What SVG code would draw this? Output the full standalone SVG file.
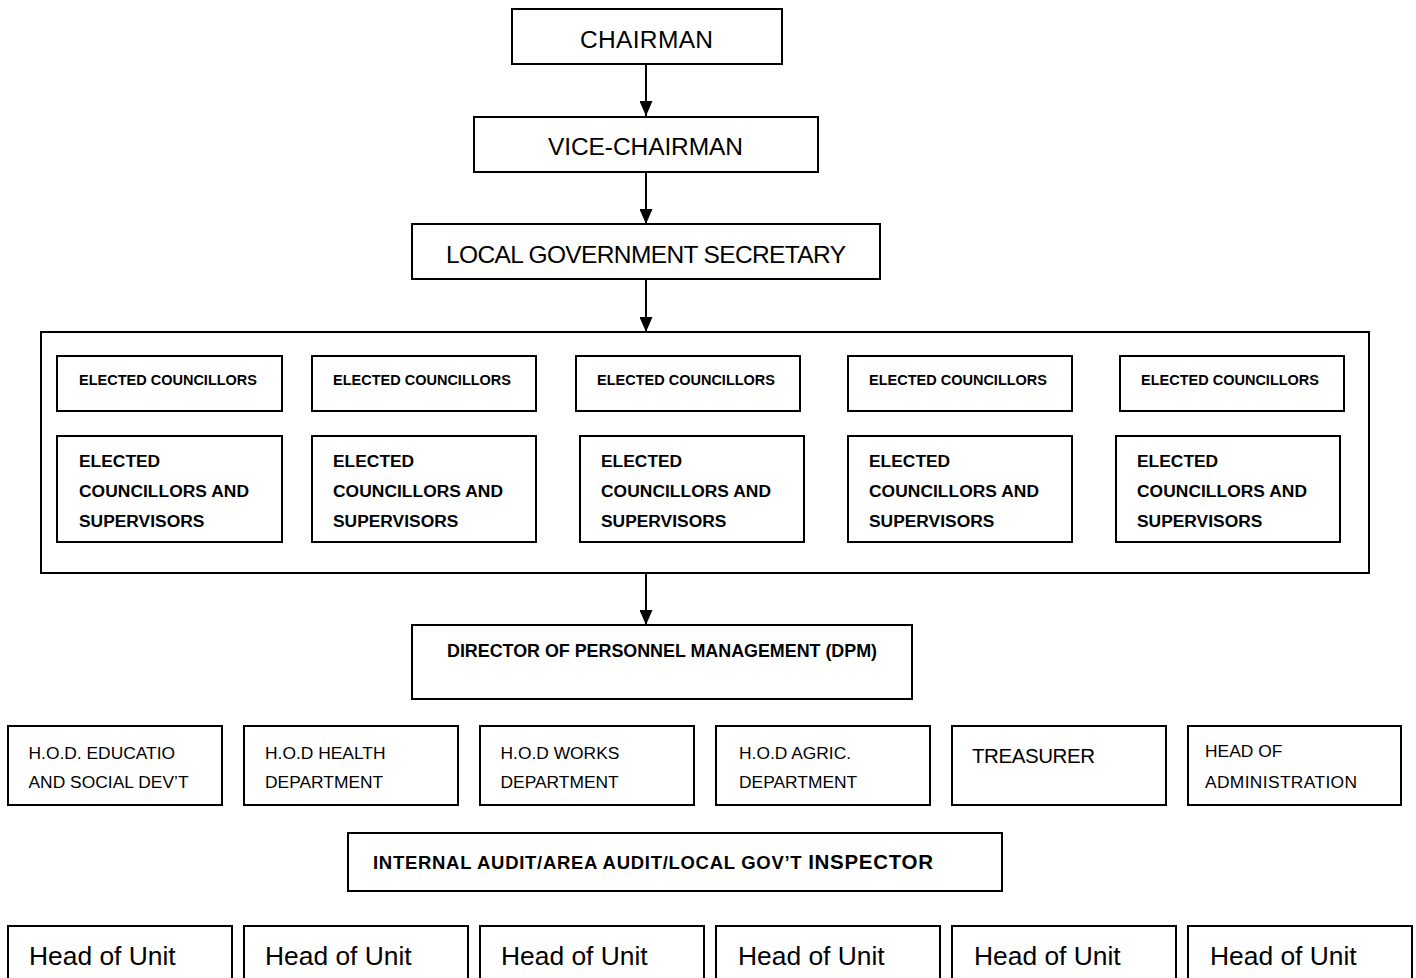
<svg xmlns="http://www.w3.org/2000/svg" width="1416" height="978" viewBox="0 0 1416 978">
<style>
rect{fill:#fff;stroke:#000;stroke-width:2}
text{font-family:"Liberation Sans",Arial,sans-serif;fill:#000}
.t1{font-size:24.5px}
.ec{font-size:14.5px;font-weight:bold}
.ecs{font-size:17.4px;font-weight:bold}
.hod{font-size:17.4px}
.hu{font-size:26.4px}
.con line{stroke:#000;stroke-width:2;marker-end:url(#ah)}
</style>
<defs>
<marker id="ah" markerUnits="userSpaceOnUse" markerWidth="15" markerHeight="13" refX="15" refY="6.5" orient="auto">
<path d="M0,0 L15,6.5 L0,13 z" fill="#000"/>
</marker>
</defs>
<rect x="0" y="0" width="1416" height="978" style="stroke:none"/>
<g id="chairman"><rect x="512" y="9" width="270" height="55"/><text class="t1" x="580" y="48" textLength="133">CHAIRMAN</text></g>
<g id="vice-chairman"><rect x="474" y="117" width="344" height="55"/><text class="t1" x="548" y="155" textLength="195">VICE-CHAIRMAN</text></g>
<g id="lg-secretary"><rect x="412" y="224" width="468" height="55"/><text class="t1" x="446" y="263" textLength="400">LOCAL GOVERNMENT SECRETARY</text></g>
<g id="councillors-group">
<rect x="41" y="332" width="1328" height="241"/>
<g id="ec1"><rect x="57" y="356" width="225" height="55"/><text class="ec" x="79" y="385" textLength="178">ELECTED COUNCILLORS</text></g>
<g id="ec2"><rect x="312" y="356" width="224" height="55"/><text class="ec" x="333" y="385" textLength="178">ELECTED COUNCILLORS</text></g>
<g id="ec3"><rect x="576" y="356" width="224" height="55"/><text class="ec" x="597" y="385" textLength="178">ELECTED COUNCILLORS</text></g>
<g id="ec4"><rect x="848" y="356" width="224" height="55"/><text class="ec" x="869" y="385" textLength="178">ELECTED COUNCILLORS</text></g>
<g id="ec5"><rect x="1120" y="356" width="224" height="55"/><text class="ec" x="1141" y="385" textLength="178">ELECTED COUNCILLORS</text></g>
<g id="ecs1"><rect x="57" y="436" width="225" height="106"/><text class="ecs" x="79" y="467">ELECTED</text><text class="ecs" x="79" y="497" textLength="170">COUNCILLORS AND</text><text class="ecs" x="79" y="527">SUPERVISORS</text></g>
<g id="ecs2"><rect x="312" y="436" width="224" height="106"/><text class="ecs" x="333" y="467">ELECTED</text><text class="ecs" x="333" y="497" textLength="170">COUNCILLORS AND</text><text class="ecs" x="333" y="527">SUPERVISORS</text></g>
<g id="ecs3"><rect x="580" y="436" width="224" height="106"/><text class="ecs" x="601" y="467">ELECTED</text><text class="ecs" x="601" y="497" textLength="170">COUNCILLORS AND</text><text class="ecs" x="601" y="527">SUPERVISORS</text></g>
<g id="ecs4"><rect x="848" y="436" width="224" height="106"/><text class="ecs" x="869" y="467">ELECTED</text><text class="ecs" x="869" y="497" textLength="170">COUNCILLORS AND</text><text class="ecs" x="869" y="527">SUPERVISORS</text></g>
<g id="ecs5"><rect x="1116" y="436" width="224" height="106"/><text class="ecs" x="1137" y="467">ELECTED</text><text class="ecs" x="1137" y="497" textLength="170">COUNCILLORS AND</text><text class="ecs" x="1137" y="527">SUPERVISORS</text></g>
</g>
<g id="dpm"><rect x="412" y="625" width="500" height="74"/><text x="447" y="657" style="font-size:17.9px;font-weight:bold" textLength="430">DIRECTOR OF PERSONNEL MANAGEMENT (DPM)</text></g>
<g id="hod-education"><rect x="8" y="726" width="214" height="79"/><text class="hod" x="28.5" y="759">H.O.D. EDUCATIO</text><text class="hod" x="28.5" y="788" textLength="160">AND SOCIAL DEV’T</text></g>
<g id="hod-health"><rect x="244" y="726" width="214" height="79"/><text class="hod" x="265" y="759">H.O.D HEALTH</text><text class="hod" x="265" y="788">DEPARTMENT</text></g>
<g id="hod-works"><rect x="480" y="726" width="214" height="79"/><text class="hod" x="500.5" y="759">H.O.D WORKS</text><text class="hod" x="500.5" y="788">DEPARTMENT</text></g>
<g id="hod-agric"><rect x="716" y="726" width="214" height="79"/><text class="hod" x="739" y="759">H.O.D AGRIC.</text><text class="hod" x="739" y="788">DEPARTMENT</text></g>
<g id="treasurer"><rect x="952" y="726" width="214" height="79"/><text x="972" y="763" style="font-size:20.5px" textLength="123">TREASURER</text></g>
<g id="head-admin"><rect x="1188" y="726" width="213" height="79"/><text class="hod" x="1205" y="757">HEAD OF</text><text class="hod" x="1205" y="788" textLength="152">ADMINISTRATION</text></g>
<g id="internal-audit"><rect x="348" y="833" width="654" height="58"/><text x="373" y="869" style="font-weight:bold;font-size:18.5px" textLength="560">INTERNAL AUDIT/AREA AUDIT/LOCAL GOV’T <tspan style="font-size:20.5px">INSPECTOR</tspan></text></g>
<g id="unit1"><rect x="8" y="926" width="224" height="70"/><text class="hu" x="29" y="965">Head of Unit</text></g>
<g id="unit2"><rect x="244" y="926" width="224" height="70"/><text class="hu" x="265" y="965">Head of Unit</text></g>
<g id="unit3"><rect x="480" y="926" width="224" height="70"/><text class="hu" x="501" y="965">Head of Unit</text></g>
<g id="unit4"><rect x="716" y="926" width="224" height="70"/><text class="hu" x="738" y="965">Head of Unit</text></g>
<g id="unit5"><rect x="952" y="926" width="224" height="70"/><text class="hu" x="974" y="965">Head of Unit</text></g>
<g id="unit6"><rect x="1188" y="926" width="224" height="70"/><text class="hu" x="1210" y="965">Head of Unit</text></g>
<g id="connectors" class="con">
<line x1="646" y1="64" x2="646" y2="116"/>
<line x1="646" y1="172" x2="646" y2="224"/>
<line x1="646" y1="279" x2="646" y2="332"/>
<line x1="646" y1="573" x2="646" y2="625"/>
</g>
</svg>
